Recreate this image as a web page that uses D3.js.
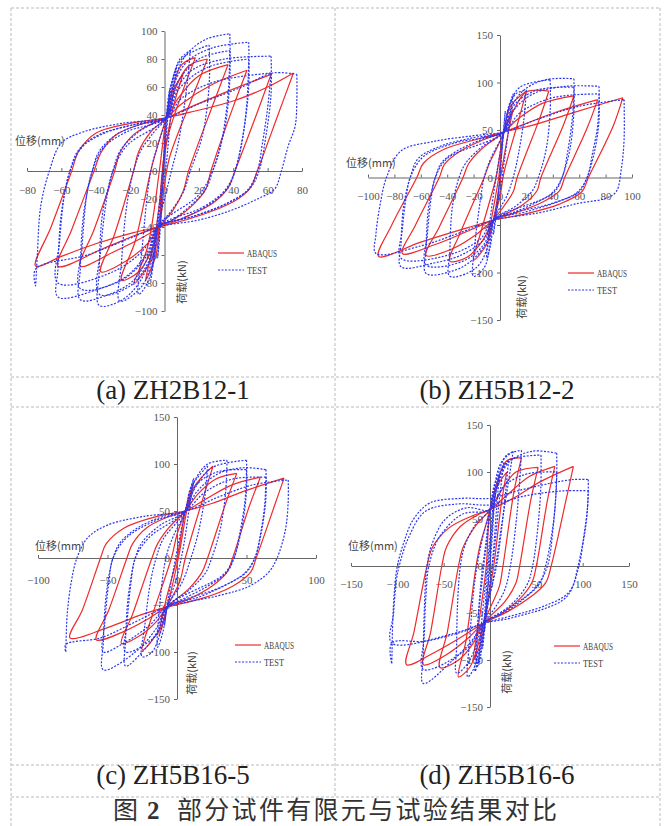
<!DOCTYPE html>
<html lang="zh">
<head>
<meta charset="UTF-8">
<script src="https://d3js.org/d3.v7.min.js"></script>
<style>
  body { margin: 0; background: #fff; }
  svg { display: block; }
  .axis path, .axis line { stroke: #666; stroke-width: 1; }
  .axis text { font-family: "Liberation Serif", serif; font-size: 11px; fill: #555; }
  .cap { font-family: "Liberation Serif", "Times New Roman", serif; font-size: 27px; fill: #222; }
  .ttl { font-family: "Noto Sans CJK SC", sans-serif; font-size: 25px; fill: #333; }
  .alab { font-family: "Noto Sans CJK SC", sans-serif; font-size: 11px; fill: #444; }
  .leg { font-family: "Liberation Serif", serif; font-size: 10px; fill: #444; }
  .grid { stroke: #bbb; stroke-dasharray: 3,2; fill: none; }
  .abaqus { fill: none; stroke: #ee2a2a; stroke-width: 1.2; }
  .test { fill: none; stroke: #2b35f0; stroke-width: 1.2; stroke-dasharray: 2,1.5; }
</style>
</head>
<body>
<div id="chart"></div>
<script>
// tick labels
var xTicksA = [-80, -60, -40, -20, 0, 20, 40, 60, 80];
var yTicksA = [-100, -80, -60, -40, -20, 0, 20, 40, 60, 80, 100];
var xTicksB = [-100, -80, -60, -40, -20, 0, 20, 40, 60, 80, 100];
var yTicksB = [-150, -100, -50, 0, 50, 100, 150];
var xTicksC = [-100, -50, 0, 50, 100];
var yTicksC = [-150, -100, -50, 0, 50, 100, 150];
var xTicksD = [-150, -100, -50, 0, 50, 100, 150];
var yTicksD = [-150, -100, -50, 0, 50, 100, 150];

var captions = ["(a) ZH2B12-1", "(b) ZH5B12-2", "(c) ZH5B16-5", "(d) ZH5B16-6"];
var seriesNames = ["ABAQUS", "TEST"];
var xLabel = "位移(mm)";
var yLabel = "荷载(kN)";
var titleParts = ["图", "2", "部分试件有限元与试验结果对比"];

// hysteresis loops, [displacement mm, load kN]
var abaqusA = [
  [[75,70],[66,40],[54,0],[50,-12],[40,-22],[20,-32],[-3,-40],[-18,-44],[-40,-52],[-60,-61],[-75,-68],[-66,-40],[-54,0],[-50,14],[-40,27],[-20,34],[1,38],[15,42],[40,50],[60,60],[75,70]],
  [[62,69],[54,42],[41,0],[37,-12],[28,-23],[12,-33],[-3,-40],[-15,-45],[-35,-55],[-62,-68],[-54,-42],[-41,0],[-37,13],[-28,26],[-12,34],[1,38],[12,44],[35,56],[62,69]],
  [[48,72],[40,46],[27,0],[24,-13],[15,-26],[5,-35],[-3,-40],[-12,-47],[-30,-58],[-49,-68],[-41,-42],[-29,0],[-26,13],[-18,26],[-7,34],[1,38],[10,48],[28,62],[48,72]],
  [[37,76],[29,50],[14,0],[11,-14],[5,-28],[-3,-40],[-10,-52],[-22,-64],[-37,-72],[-29,-45],[-18,0],[-15,14],[-8,28],[1,38],[8,52],[20,68],[37,76]],
  [[25,80],[16,52],[3,10],[0,-10],[-3,-40],[-8,-58],[-15,-72],[-25,-78],[-17,-50],[-8,0],[-4,18],[1,38],[6,58],[14,75],[25,80]],
  [[18,81],[10,55],[1,20],[-2,-10],[-3,-40],[-7,-62],[-18,-81],[-10,-55],[-3,0],[-1,20],[1,38],[5,60],[10,76],[18,81]],
  [[11,70],[5,45],[0,10],[-3,-40],[-5,-60],[-11,-78],[-6,-50],[-1,0],[1,38],[4,55],[11,70]]
];
var testA = [
  [[77,69],[77,50],[76,32],[72,18],[68,0],[64,-13],[54,-20],[39,-28],[20,-35],[-4,-40],[-20,-48],[-45,-60],[-75,-70],[-75,-82],[-74,-60],[-72,-25],[-67,0],[-60,20],[-47,28],[-25,34],[1,38],[20,48],[45,60],[63,70],[77,69]],
  [[62,82],[62,55],[59,25],[55,0],[50,-12],[38,-22],[18,-32],[-4,-40],[-10,-58],[-22,-75],[-40,-85],[-62,-90],[-62,-70],[-60,-30],[-55,0],[-50,15],[-38,26],[-18,33],[1,38],[6,56],[16,72],[35,80],[62,82]],
  [[62,70],[60,45],[57,20],[54,0],[48,-14],[35,-24],[15,-33],[-4,-40],[-12,-56],[-30,-72],[-62,-80],[-61,-50],[-58,-15],[-55,0],[-48,17],[-35,27],[-15,34],[1,38],[10,52],[30,64],[62,70]],
  [[49,92],[49,60],[46,28],[41,0],[37,-12],[26,-24],[10,-34],[-4,-40],[-9,-60],[-18,-78],[-32,-88],[-49,-92],[-49,-70],[-47,-30],[-42,0],[-38,14],[-28,26],[-12,34],[1,38],[5,60],[13,78],[28,88],[49,92]],
  [[49,80],[48,50],[45,20],[41,0],[35,-14],[22,-26],[-4,-40],[-10,-60],[-25,-78],[-49,-84],[-48,-55],[-45,-15],[-42,0],[-36,16],[-22,28],[1,38],[8,58],[25,74],[49,80]],
  [[38,98],[38,65],[35,30],[28,0],[24,-13],[14,-26],[3,-36],[-4,-40],[-8,-62],[-16,-82],[-26,-93],[-38,-96],[-38,-72],[-36,-30],[-30,0],[-26,14],[-16,27],[-5,35],[1,38],[5,62],[12,82],[24,94],[38,98]],
  [[38,86],[37,55],[33,20],[28,0],[20,-17],[-4,-40],[-9,-64],[-20,-82],[-38,-88],[-37,-55],[-33,-15],[-30,0],[-22,18],[1,38],[7,62],[20,80],[38,86]],
  [[26,90],[26,62],[22,25],[15,0],[11,-15],[3,-30],[-4,-40],[-7,-62],[-13,-82],[-26,-93],[-25,-65],[-22,-25],[-18,0],[-14,14],[-6,28],[1,38],[4,60],[10,80],[26,90]],
  [[15,86],[13,60],[8,20],[4,0],[0,-20],[-4,-40],[-6,-62],[-10,-80],[-15,-88],[-13,-55],[-8,0],[-4,18],[1,38],[4,62],[9,80],[15,86]],
  [[7,74],[4,45],[1,5],[-2,-20],[-4,-40],[-6,-62],[-8,-78],[-5,-45],[-1,0],[0,20],[1,38],[3,58],[7,74]],
  [[3,58],[1,30],[-1,-10],[-3,-50],[-4,-62],[-2,-30],[0,10],[2,40],[3,58]]
];

var abaqusB = [
  [[93,84],[86,55],[67,0],[62,-15],[45,-28],[20,-38],[-5,-45],[-25,-53],[-60,-68],[-92,-83],[-82,-50],[-63,0],[-58,15],[-42,30],[-18,40],[3,48],[22,54],[55,68],[93,84]],
  [[74,82],[66,52],[49,0],[45,-14],[32,-26],[12,-37],[-5,-45],[-22,-55],[-48,-70],[-74,-80],[-64,-50],[-46,0],[-42,14],[-30,28],[-12,40],[3,48],[18,56],[45,70],[74,82]],
  [[56,86],[48,55],[31,0],[28,-14],[18,-28],[5,-38],[-5,-45],[-18,-60],[-36,-75],[-56,-82],[-46,-52],[-28,0],[-24,14],[-14,30],[3,48],[14,62],[32,78],[56,86]],
  [[37,91],[30,62],[13,0],[10,-15],[2,-32],[-5,-45],[-14,-68],[-25,-84],[-38,-88],[-30,-58],[-12,0],[-8,15],[-2,32],[3,48],[10,70],[20,90],[37,91]],
  [[20,91],[14,60],[3,5],[0,-20],[-5,-45],[-10,-70],[-20,-87],[-14,-55],[-3,0],[0,25],[3,48],[8,75],[20,91]],
  [[10,72],[6,45],[1,5],[-5,-45],[-9,-65],[-6,-40],[-1,0],[3,48],[10,72]]
];
var testB = [
  [[94,82],[94,40],[92,10],[88,-15],[80,-22],[60,-27],[30,-37],[-5,-45],[-30,-58],[-60,-72],[-94,-80],[-94,-60],[-91,-30],[-86,0],[-75,28],[-50,38],[-20,44],[3,48],[30,62],[60,75],[94,82]],
  [[75,96],[75,60],[72,30],[66,0],[60,-15],[45,-25],[20,-36],[-5,-45],[-12,-65],[-30,-82],[-50,-90],[-75,-94],[-75,-70],[-73,-30],[-68,0],[-62,20],[-45,33],[-20,42],[3,48],[10,70],[25,88],[50,96],[75,96]],
  [[75,88],[74,55],[70,25],[66,0],[58,-16],[40,-27],[-5,-45],[-15,-65],[-40,-82],[-75,-85],[-74,-55],[-71,-20],[-68,0],[-58,22],[-35,36],[3,48],[15,68],[40,84],[75,88]],
  [[56,104],[56,70],[53,30],[47,0],[42,-14],[28,-26],[10,-37],[-5,-45],[-10,-68],[-22,-88],[-35,-98],[-56,-101],[-56,-75],[-54,-30],[-49,0],[-44,16],[-30,30],[-12,41],[3,48],[8,72],[18,92],[35,103],[56,104]],
  [[56,95],[55,65],[51,25],[47,0],[38,-18],[-5,-45],[-12,-70],[-28,-88],[-56,-92],[-55,-60],[-52,-20],[-49,0],[-40,20],[3,48],[10,75],[28,92],[56,95]],
  [[38,103],[38,70],[35,30],[29,0],[24,-15],[12,-30],[-5,-45],[-9,-72],[-18,-95],[-38,-104],[-38,-78],[-36,-30],[-31,0],[-26,15],[-14,32],[3,48],[7,75],[15,95],[38,103]],
  [[20,92],[18,60],[14,25],[10,0],[5,-20],[-5,-45],[-8,-75],[-12,-95],[-20,-104],[-19,-70],[-15,-25],[-12,0],[-7,20],[3,48],[6,70],[12,88],[20,92]],
  [[10,88],[7,55],[3,15],[0,-15],[-5,-45],[-7,-70],[-10,-85],[-8,-50],[-3,0],[0,25],[3,48],[6,72],[10,88]],
  [[4,70],[2,40],[0,0],[-3,-35],[-5,-60],[-2,-30],[0,5],[2,35],[4,70]]
];

var abaqusC = [
  [[77,85],[70,55],[57,0],[53,-15],[40,-30],[18,-43],[-7,-52],[-25,-60],[-50,-74],[-77,-85],[-68,-55],[-55,0],[-51,15],[-38,32],[-15,44],[6,50],[25,58],[50,72],[77,85]],
  [[60,86],[52,55],[40,0],[36,-15],[25,-30],[8,-44],[-7,-52],[-20,-64],[-38,-78],[-58,-87],[-49,-55],[-36,0],[-32,15],[-22,32],[-6,44],[6,50],[20,62],[40,78],[60,86]],
  [[43,90],[35,58],[22,0],[18,-15],[9,-32],[-7,-52],[-15,-68],[-26,-82],[-40,-91],[-32,-60],[-18,0],[-14,15],[-6,32],[6,50],[15,68],[28,84],[43,90]],
  [[26,98],[19,65],[6,0],[2,-25],[-7,-52],[-12,-75],[-25,-98],[-18,-62],[-4,0],[0,25],[6,50],[12,75],[26,98]],
  [[12,80],[7,50],[1,0],[-7,-52],[-10,-70],[-13,-82],[-8,-45],[0,0],[6,50],[12,80]]
];
var testC = [
  [[80,83],[80,60],[78,30],[72,0],[66,-15],[52,-30],[30,-40],[-7,-52],[-30,-68],[-55,-85],[-80,-92],[-80,-100],[-79,-60],[-76,-25],[-72,0],[-64,22],[-50,35],[-25,44],[6,50],[30,65],[55,78],[80,83]],
  [[64,94],[64,65],[61,30],[56,0],[50,-15],[36,-28],[15,-42],[-7,-52],[-15,-75],[-30,-100],[-53,-119],[-53,-90],[-51,-40],[-46,0],[-40,18],[-25,35],[-8,45],[6,50],[14,70],[30,90],[48,96],[64,94]],
  [[64,86],[63,55],[60,25],[56,0],[48,-17],[30,-32],[-7,-52],[-20,-72],[-40,-92],[-53,-100],[-52,-70],[-49,-25],[-46,0],[-36,22],[-15,40],[6,50],[20,70],[40,84],[64,86]],
  [[50,104],[50,72],[47,35],[41,0],[36,-15],[22,-30],[5,-43],[-7,-52],[-14,-78],[-25,-100],[-37,-115],[-37,-88],[-35,-40],[-30,0],[-25,17],[-12,35],[6,50],[12,72],[25,96],[50,104]],
  [[50,94],[49,62],[45,25],[41,0],[33,-18],[-7,-52],[-15,-82],[-37,-100],[-36,-70],[-33,-25],[-30,0],[-20,22],[6,50],[14,78],[30,92],[50,94]],
  [[36,104],[35,70],[31,30],[25,0],[20,-17],[8,-35],[-7,-52],[-12,-80],[-18,-100],[-25,-105],[-23,-70],[-19,-25],[-15,0],[-10,20],[6,50],[12,80],[22,100],[36,104]],
  [[22,98],[20,65],[15,25],[10,0],[4,-25],[-7,-52],[-10,-78],[-14,-95],[-13,-60],[-8,0],[-3,22],[6,50],[10,75],[22,98]],
  [[12,85],[9,55],[5,15],[0,-20],[-7,-52],[-9,-72],[-6,-40],[-1,0],[3,30],[6,50],[9,70],[12,85]]
];

var abaqusD = [
  [[90,106],[82,70],[66,0],[60,-18],[45,-32],[20,-48],[-7,-61],[-30,-75],[-60,-92],[-90,-105],[-82,-70],[-68,0],[-62,20],[-45,40],[-20,53],[0,60],[25,72],[55,90],[90,106]],
  [[70,106],[62,70],[50,0],[45,-18],[32,-35],[10,-52],[-7,-61],[-25,-78],[-48,-95],[-72,-105],[-64,-70],[-52,0],[-47,20],[-32,42],[-12,55],[0,60],[18,75],[42,95],[70,106]],
  [[52,105],[44,70],[32,0],[28,-18],[16,-38],[-7,-61],[-18,-82],[-34,-100],[-54,-108],[-46,-70],[-34,0],[-29,20],[-16,42],[0,60],[12,80],[28,100],[52,105]],
  [[34,115],[26,80],[14,0],[10,-22],[0,-45],[-7,-61],[-14,-88],[-22,-108],[-34,-118],[-26,-80],[-15,0],[-10,25],[-4,45],[0,60],[8,90],[18,112],[34,115]],
  [[18,100],[12,65],[4,0],[-7,-61],[-11,-85],[-18,-100],[-12,-60],[-4,0],[0,60],[8,85],[18,100]]
];
var testD = [
  [[106,92],[106,75],[103,40],[95,0],[88,-25],[79,-36],[60,-45],[43,-50],[20,-56],[-7,-61],[-30,-70],[-70,-80],[-106,-82],[-106,-104],[-105,-60],[-103,-25],[-100,0],[-93,25],[-83,49],[-65,67],[-30,72],[0,72],[30,80],[65,88],[90,92],[106,92]],
  [[106,80],[105,60],[101,30],[96,0],[85,-28],[60,-42],[-7,-61],[-40,-72],[-106,-82],[-104,-50],[-101,-15],[-98,0],[-88,30],[-70,58],[-35,66],[0,65],[40,75],[80,80],[106,80]],
  [[72,120],[72,95],[70,60],[66,30],[60,0],[54,-18],[40,-32],[18,-48],[-7,-61],[-20,-80],[-40,-100],[-72,-125],[-72,-95],[-71,-50],[-68,0],[-62,25],[-48,50],[-25,62],[0,60],[8,85],[20,110],[45,122],[72,120]],
  [[72,100],[71,75],[68,40],[62,0],[50,-22],[25,-42],[-7,-61],[-25,-88],[-72,-110],[-71,-75],[-69,-30],[-66,0],[-55,30],[-30,55],[0,60],[15,85],[40,98],[72,100]],
  [[55,118],[55,88],[52,45],[46,0],[40,-20],[26,-38],[8,-52],[-7,-61],[-15,-85],[-25,-105],[-36,-114],[-36,-85],[-35,-40],[-32,0],[-27,22],[-15,45],[0,60],[8,90],[20,112],[55,118]],
  [[34,123],[32,90],[28,45],[22,0],[16,-25],[5,-45],[-7,-61],[-12,-90],[-18,-110],[-24,-118],[-22,-80],[-18,-30],[-14,0],[-8,30],[0,60],[8,95],[18,118],[34,123]],
  [[25,122],[20,90],[12,40],[6,0],[-2,-40],[-8,-75],[-16,-112],[-14,-70],[-9,-20],[-3,30],[4,80],[12,110],[25,122]],
  [[20,112],[17,80],[12,35],[7,0],[0,-30],[-7,-61],[-10,-90],[-14,-108],[-13,-60],[-9,-10],[-5,20],[0,60],[6,90],[20,112]],
  [[15,110],[10,70],[5,20],[0,-20],[-5,-55],[-10,-95],[-12,-105],[-9,-60],[-4,-10],[0,30],[5,75],[15,110]],
  [[10,95],[7,60],[4,20],[0,-20],[-5,-60],[-8,-88],[-5,-40],[-2,0],[2,40],[5,70],[10,95]],
  [[5,75],[3,40],[0,0],[-4,-40],[-6,-70],[-3,-30],[0,10],[3,50],[5,75]]
];

var width = 666, height = 826;

var svg = d3.select("#chart").append("svg")
  .attr("width", width)
  .attr("height", height);

// dashed table lines
var gridH = [[11, 660, 8], [11, 660, 377], [11, 660, 407], [11, 660, 765], [11, 660, 797]];
var gridV = [[11, 8, 826], [335, 8, 797], [660, 8, 826]];
gridH.forEach(function (l) {
  svg.append("line").attr("class", "grid").attr("x1", l[0]).attr("x2", l[1]).attr("y1", l[2]).attr("y2", l[2]);
});
gridV.forEach(function (l) {
  svg.append("line").attr("class", "grid").attr("x1", l[0]).attr("x2", l[0]).attr("y1", l[1]).attr("y2", l[2]);
});

var panels = [
  { abaqus: abaqusA, test: testA, xTicks: xTicksA, yTicks: yTicksA, caption: captions[0],
    xd: [-80, 80], xr: [27, 302], yd: [-100, 100], yr: [311, 31], pad: 15,
    xlab: [15, 145], ylab: [181, 282], leg: [218, 253], cap: [173, 399] },
  { abaqus: abaqusB, test: testB, xTicks: xTicksB, yTicks: yTicksB, caption: captions[1],
    xd: [-100, 100], xr: [368, 632], yd: [-150, 150], yr: [320, 35], pad: 15,
    xlab: [346, 167], ylab: [521, 297], leg: [568, 273], cap: [497, 399] },
  { abaqus: abaqusC, test: testC, xTicks: xTicksC, yTicks: yTicksC, caption: captions[2],
    xd: [-100, 100], xr: [38, 316], yd: [-150, 150], yr: [699, 417], pad: 18,
    xlab: [35, 550], ylab: [191, 673], leg: [235, 645], cap: [173, 784] },
  { abaqus: abaqusD, test: testD, xTicks: xTicksD, yTicks: yTicksD, caption: captions[3],
    xd: [-150, 150], xr: [351, 629], yd: [-150, 150], yr: [707, 425], pad: 14,
    xlab: [348, 550], ylab: [506, 672], leg: [554, 646], cap: [497, 784] }
];

panels.forEach(function (p) {
  var x = d3.scaleLinear().domain(p.xd).range(p.xr);
  var y = d3.scaleLinear().domain(p.yd).range(p.yr);
  var g = svg.append("g");

  g.append("g").attr("class", "axis")
    .attr("transform", "translate(0," + y(0) + ")")
    .call(d3.axisBottom(x).tickValues(p.xTicks).tickSizeInner(-3).tickSizeOuter(0).tickPadding(p.pad));

  g.append("g").attr("class", "axis")
    .attr("transform", "translate(" + x(0) + ",0)")
    .call(d3.axisLeft(y).tickValues(p.yTicks).tickSizeInner(3).tickSizeOuter(0).tickPadding(4));

  g.append("text").attr("class", "alab")
    .attr("x", p.xlab[0]).attr("y", p.xlab[1])
    .text(xLabel);

  g.append("text").attr("class", "alab")
    .attr("transform", "translate(" + p.ylab[0] + "," + p.ylab[1] + ") rotate(-90)")
    .attr("text-anchor", "middle")
    .attr("dominant-baseline", "central")
    .text(yLabel);

  var line = d3.line()
    .x(function (d) { return x(d[0]); })
    .y(function (d) { return y(d[1]); })
    .curve(d3.curveCatmullRom.alpha(0.5));

  g.selectAll(".abaqus").data(p.abaqus).enter()
    .append("path").attr("class", "abaqus").attr("d", line);

  g.selectAll(".test").data(p.test).enter()
    .append("path").attr("class", "test").attr("d", line);

  // legend
  ["abaqus", "test"].forEach(function (cls, i) {
    var ly = p.leg[1] + i * 17;
    g.append("line").attr("class", cls)
      .attr("x1", p.leg[0]).attr("x2", p.leg[0] + 26)
      .attr("y1", ly).attr("y2", ly);
    g.append("text").attr("class", "leg")
      .attr("x", p.leg[0] + 29).attr("y", ly + 3.5)
      .attr("textLength", i === 0 ? 30 : 20)
      .attr("lengthAdjust", "spacingAndGlyphs")
      .text(seriesNames[i]);
  });

  svg.append("text").attr("class", "cap")
    .attr("x", p.cap[0]).attr("y", p.cap[1])
    .attr("text-anchor", "middle")
    .text(p.caption);
});

// figure title, pieces placed where the reference puts them
svg.append("text").attr("class", "ttl").attr("x", 113).attr("y", 819).text(titleParts[0]);
svg.append("text").attr("class", "ttl").attr("x", 147).attr("y", 819)
  .style("font-family", "'Liberation Serif', serif")
  .style("font-weight", "bold")
  .text(titleParts[1]);
svg.append("text").attr("class", "ttl").attr("x", 177).attr("y", 819)
  .attr("textLength", 380).attr("lengthAdjust", "spacing")
  .text(titleParts[2]);
</script>
</body>
</html>
